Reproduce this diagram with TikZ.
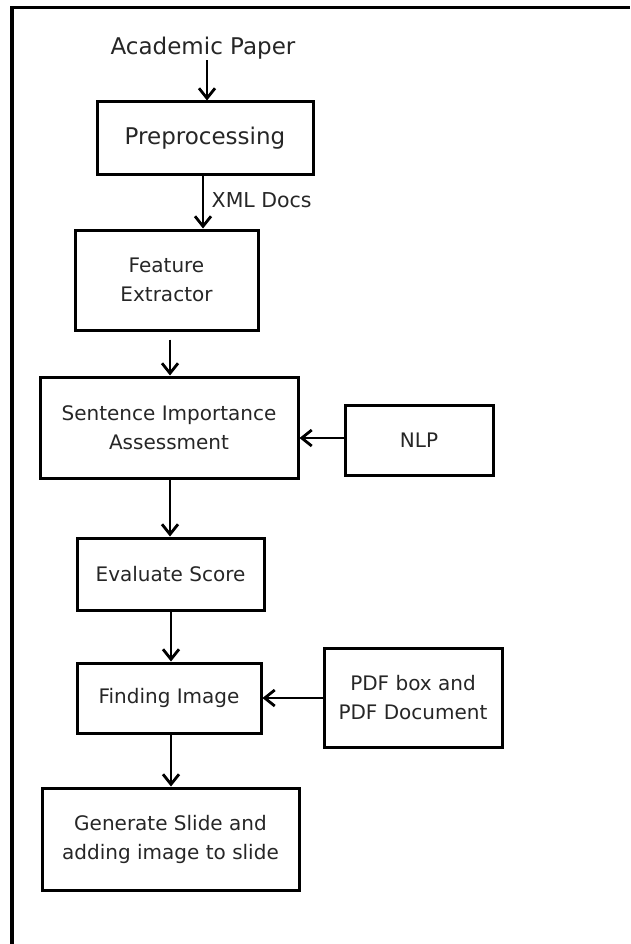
\documentclass[tikz,border=0pt]{standalone}
\usepackage{fontspec}
\setmainfont{DejaVu Sans}
\usetikzlibrary{arrows.meta}

\newcommand{\flowfont}{\fontsize{20}{29}\selectfont}
\newcommand{\bigflowfont}{\fontsize{23}{29}\selectfont}

\begin{document}
\begin{tikzpicture}[
    x=1pt, y=1pt,
    arrow/.style ={draw, line width=2.8pt, -{Straight Barb[length=10pt, width=16pt, line width=2.8pt]}},
    process/.style = {rectangle, draw=black, line width=3pt, inner sep=0pt, align=center, font=\flowfont, text=black!85}
  ]
  \useasboundingbox (0,0) rectangle (630,-944);
  % frame
  \draw[line width=3.5pt] (12,-944) -- (12,-7.5) -- (630,-7.5);

  \node (paper) at (203,-48) [font=\bigflowfont, text=black!85, inner sep=0pt] {Academic Paper};
  \node (prep) at (205,-138.5) [process, font=\bigflowfont, minimum width=216, minimum height=73] {Preprocessing};
  \node (feat) at (166.5,-280) [process, minimum width=183, minimum height=100] {Feature\\Extractor};
  \node (sia) at (169,-427.5) [process, minimum width=258, minimum height=101] {Sentence Importance\\Assessment};
  \node (nlp) at (419,-440) [process, minimum width=148, minimum height=70] {NLP};
  \node (eval) at (170.5,-574) [process, minimum width=187, minimum height=72] {Evaluate Score};
  \node (find) at (169,-698) [process, minimum width=184, minimum height=70] {Finding Image};
  \node (pdf) at (413,-697.5) [process, minimum width=178, minimum height=99] {PDF box and\\PDF Document};
  \node (gen) at (170.5,-839) [process, minimum width=257, minimum height=102] {Generate Slide and\\adding image to slide};

  \begin{scope}[every path/.style=arrow]
    \path (paper.south) ++(4,-1) -- (prep.north -| 207,0);
    \path (prep.south -| 203,0) -- (feat.north -| 203,0)
      node[pos=0.45, right=4pt, font=\fontsize{20.5}{22}\selectfont, text=black!85, draw=none] {XML Docs};
    \path (feat.south -| 170,0) ++(0,-8) -- (sia.north -| 170,0);
    \path (sia.south -| 170,0) -- (eval.north -| 170,0);
    \path (eval.south -| 171,0) -- (find.north -| 171,0);
    \path (find.south -| 171,0) -- (gen.north -| 171,0);
    \path (nlp.west |- 0,-438) -- (sia.east |- 0,-438);
    \path (pdf.west |- find) -- (find.east);
  \end{scope}
\end{tikzpicture}
\end{document}
